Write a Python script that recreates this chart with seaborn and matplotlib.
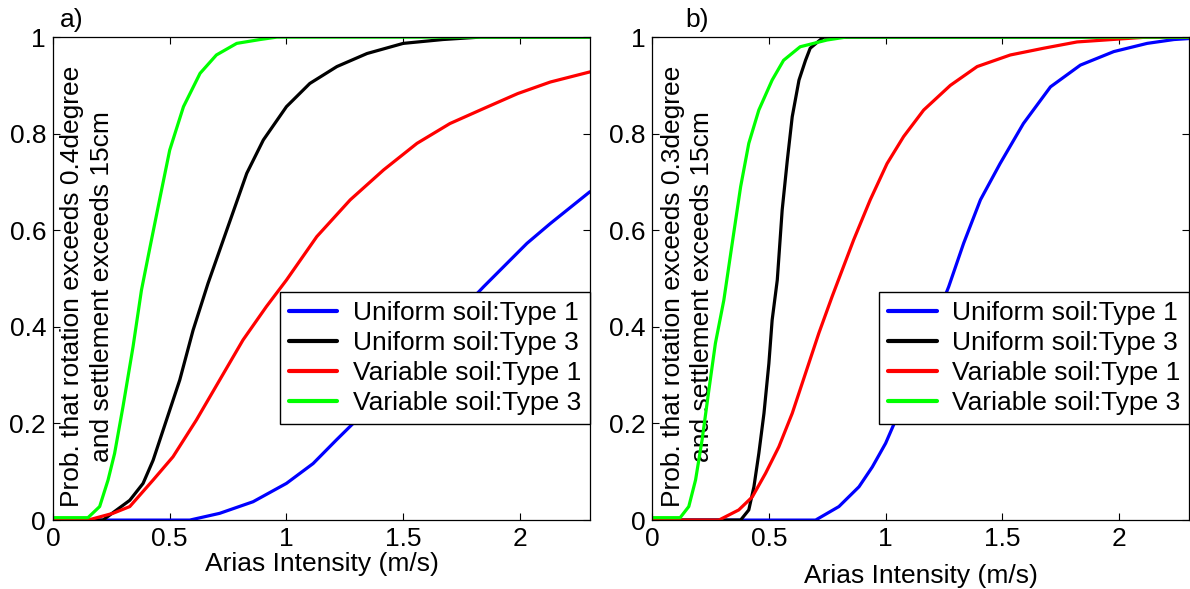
import matplotlib
matplotlib.use('Agg')
import matplotlib.pyplot as plt
import pandas as pd
import seaborn as sns

sns.set_style('ticks', {'xtick.direction': 'in', 'ytick.direction': 'in'})
plt.rcParams['font.family'] = ['Liberation Sans', 'DejaVu Sans']
plt.rcParams['text.color'] = 'black'
plt.rcParams['axes.labelcolor'] = 'black'

cases = ['Uniform soil:Type 1', 'Uniform soil:Type 3',
         'Variable soil:Type 1', 'Variable soil:Type 3']
colors = ['#0000ff', '#000000', '#ff0000', '#00ff00']

# panel a) rotation 0.4 deg
a_u1_x = [0, 0.586, 0.714, 0.857, 1.0, 1.114, 1.214, 1.30, 1.844, 2.03, 2.13, 2.3]
a_u1_y = [0, 0, 0.014, 0.038, 0.076, 0.117, 0.166, 0.207, 0.483, 0.573, 0.614, 0.68]
a_u3_x = [0, 0.214, 0.329, 0.386, 0.429, 0.486, 0.543, 0.60, 0.664, 0.744, 0.830, 0.901,
          1.0, 1.10, 1.216, 1.345, 1.50, 1.67, 1.83, 2.3]
a_u3_y = [0, 0, 0.041, 0.076, 0.124, 0.207, 0.29, 0.393, 0.49, 0.600, 0.718, 0.787,
          0.856, 0.904, 0.939, 0.966, 0.987, 0.995, 1.0, 1.0]
a_v1_x = [0, 0.15, 0.257, 0.329, 0.429, 0.514, 0.614, 0.714, 0.814, 0.914, 1.0, 1.13,
          1.273, 1.416, 1.559, 1.70, 1.844, 1.99, 2.13, 2.3]
a_v1_y = [0, 0, 0.014, 0.028, 0.083, 0.131, 0.207, 0.29, 0.373, 0.442, 0.497, 0.587,
          0.663, 0.725, 0.780, 0.821, 0.852, 0.883, 0.907, 0.928]
a_v3_x = [0, 0.15, 0.20, 0.236, 0.264, 0.30, 0.343, 0.379, 0.416, 0.459, 0.50, 0.559,
          0.63, 0.70, 0.787, 0.887, 0.959, 2.3]
a_v3_y = [0.005, 0.005, 0.028, 0.083, 0.138, 0.235, 0.359, 0.476, 0.566, 0.669, 0.766, 0.856,
          0.925, 0.963, 0.987, 0.995, 1.0, 1.0]

# panel b) rotation 0.3 deg
b_u1_x = [0, 0.70, 0.80, 0.886, 0.943, 1.0, 1.043, 1.27, 1.334, 1.406, 1.49, 1.59,
          1.706, 1.834, 1.977, 2.12, 2.235, 2.3]
b_u1_y = [0, 0, 0.028, 0.069, 0.11, 0.159, 0.207, 0.483, 0.573, 0.663, 0.738, 0.821,
          0.897, 0.942, 0.97, 0.987, 0.995, 0.997]
b_u3_x = [0, 0.379, 0.414, 0.436, 0.457, 0.479, 0.50, 0.514, 0.536, 0.557, 0.579, 0.60,
          0.629, 0.657, 0.677, 0.734, 2.3]
b_u3_y = [0, 0, 0.021, 0.069, 0.138, 0.221, 0.324, 0.414, 0.497, 0.642, 0.745, 0.835,
          0.911, 0.952, 0.977, 1.0, 1.0]
b_v1_x = [0, 0.286, 0.371, 0.429, 0.486, 0.543, 0.60, 0.657, 0.714, 0.771, 0.863, 0.934,
          1.006, 1.077, 1.163, 1.277, 1.392, 1.534, 1.677, 1.82, 2.03, 2.12, 2.3]
b_v1_y = [0, 0, 0.021, 0.048, 0.097, 0.152, 0.221, 0.304, 0.387, 0.463, 0.58, 0.663,
          0.738, 0.794, 0.849, 0.90, 0.939, 0.963, 0.977, 0.99, 0.997, 1.0, 1.0]
b_v3_x = [0, 0.12, 0.157, 0.186, 0.214, 0.243, 0.271, 0.307, 0.343, 0.379, 0.414, 0.457,
          0.514, 0.563, 0.634, 0.749, 0.83, 2.3]
b_v3_y = [0.005, 0.005, 0.028, 0.083, 0.166, 0.269, 0.366, 0.455, 0.573, 0.69, 0.78, 0.849,
          0.911, 0.952, 0.98, 0.994, 1.0, 1.0]

xticks = [0, 0.5, 1, 1.5, 2]
xticklabels = ['0', '0.5', '1', '1.5', '2']
yticks = [0, 0.2, 0.4, 0.6, 0.8, 1]
yticklabels = ['0', '0.2', '0.4', '0.6', '0.8', '1']


def make_df(curves):
    rows = []
    for name, (xs, ys) in zip(cases, curves):
        for x, y in zip(xs, ys):
            rows.append({'Arias': x, 'Prob': y, 'Case': name})
    return pd.DataFrame(rows)


df_a = make_df([(a_u1_x, a_u1_y), (a_u3_x, a_u3_y), (a_v1_x, a_v1_y), (a_v3_x, a_v3_y)])
df_b = make_df([(b_u1_x, b_u1_y), (b_u3_x, b_u3_y), (b_v1_x, b_v1_y), (b_v3_x, b_v3_y)])

fig = plt.figure(figsize=(11.9, 5.89), dpi=100)
ax_a = fig.add_axes([0.0445, 0.117, 0.4513, 0.820])
ax_b = fig.add_axes([0.548, 0.117, 0.4513, 0.820])

panels = [
    (ax_a, df_a, 'a)', 0.034, 'Prob. that rotation exceeds 0.4degree\nand settlement exceeds 15cm', 0.063, 1),
    (ax_b, df_b, 'b)', 0.083, 'Prob. that rotation exceeds 0.3degree\nand settlement exceeds 15cm', 0.066, 9),
]

fs = 19
for ax, df, tag, tag_x, ylab, ylab_x, xpad in panels:
    sns.lineplot(data=df, x='Arias', y='Prob', hue='Case', hue_order=cases,
                 palette=dict(zip(cases, colors)), linewidth=2.3,
                 estimator=None, sort=False, ax=ax)
    ax.set_xlim(0, 2.3)
    ax.set_ylim(0, 1)
    ax.set_xticks(xticks)
    ax.set_xticklabels(xticklabels)
    ax.set_yticks(yticks)
    ax.set_yticklabels(yticklabels)
    ax.tick_params(top=True, right=True, direction='in', length=5, width=0.8,
                   labelsize=fs, pad=5, colors='black')
    for sp in ax.spines.values():
        sp.set_visible(True)
        sp.set_color('black')
        sp.set_linewidth(0.9)
    ax.set_xlabel('Arias Intensity (m/s)', fontsize=fs, labelpad=xpad)
    ax.set_ylabel(ylab, fontsize=fs, ha='center', va='center', linespacing=1.3)
    ax.yaxis.set_label_coords(ylab_x, 0.484)
    ax.text(tag_x, 1.035, tag, transform=ax.transAxes, fontsize=fs,
            ha='center', va='center')

    old = ax.get_legend()
    handles = old.legend_handles
    labels = [t.get_text() for t in old.get_texts()]
    old.remove()
    leg = ax.legend(handles, labels, loc='lower right', bbox_to_anchor=(1.0, 0.199),
                    fontsize=fs, frameon=True, fancybox=False, framealpha=1,
                    edgecolor='black', handlelength=1.83, handletextpad=0.57,
                    borderpad=0.35, labelspacing=0.22, borderaxespad=0)
    leg.get_frame().set_linewidth(1.0)
    for h in leg.legend_handles:
        h.set_linewidth(3)

fig.savefig('out.png', dpi=100, facecolor='white')
